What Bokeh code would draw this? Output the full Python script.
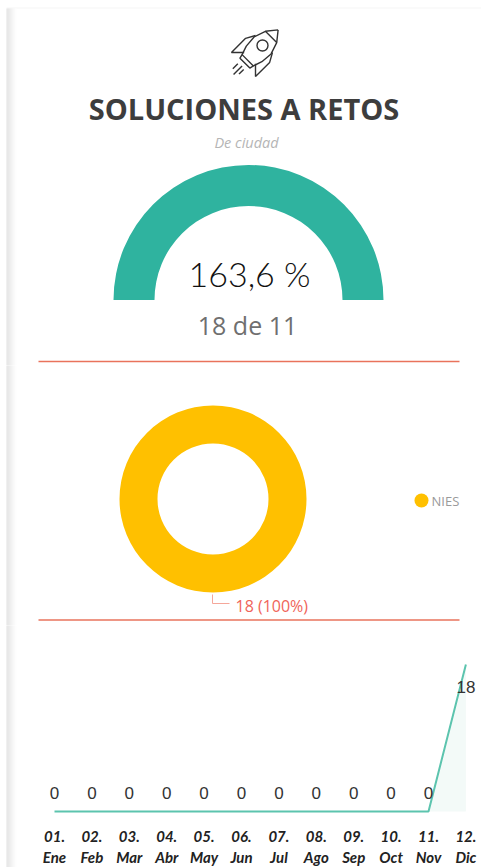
from bokeh.plotting import figure
from bokeh.layouts import column
from bokeh.embed import file_html
from bokeh.resources import INLINE
from bokeh.models import ColumnDataSource, Range1d
from bokeh.core.properties import value
import math

# ---- data ----
title_text = "SOLUCIONES A RETOS"
subtitle_text = "De ciudad"
gauge_value = 18
gauge_target = 11
gauge_label = "163,6 %"
gauge_sub = "18 de 11"
donut_names = ["NIES"]
donut_values = [18]
donut_label = "18 (100%)"
months = ["01.\nEne", "02.\nFeb", "03.\nMar", "04.\nAbr", "05.\nMay", "06.\nJun",
          "07.\nJul", "08.\nAgo", "09.\nSep", "10.\nOct", "11.\nNov", "12.\nDic"]
line_values = [0, 0, 0, 0, 0, 0, 0, 0, 0, 0, 0, 18]

# ---- styles ----
TEAL = "#2fb39f"
YEL = "#ffc000"
RED = "#e9735c"
W = 481
SPLIT1, SPLIT2, H = 365, 625, 867
SHADES = ["#e2e2e2", "#e0e0e0", "#e3e3e3", "#e7e7e7", "#ebebeb", "#f0f0f0", "#f4f4f4", "#f7f7f7", "#fafafa", "#fdfdfd"]


def style(p):
    p.axis.visible = False
    p.grid.visible = False
    p.outline_line_color = None
    p.background_fill_color = "white"
    p.border_fill_color = "white"


def panel(top, bottom):
    p = figure(width=W, height=bottom - top, output_backend="svg", toolbar_location=None,
               x_range=Range1d(0, W), y_range=Range1d(bottom, top), min_border=0)
    style(p)
    if top == 0:
        p.quad(left=6, right=481, top=7, bottom=8, fill_color="#f6f6f6", line_color=None)
    for i, c in enumerate(SHADES):
        p.quad(left=6 + i, right=7 + i, top=max(top - 2, 8), bottom=bottom + 2, fill_color=c, line_color=None)
    return p


# ---- top panel: rocket, title, gauge ----
p1 = panel(0, SPLIT1)
p1.line([38, 459], [361, 361], line_color=RED, line_width=1.5)

# rocket icon, drawn in its own units and turned 45 degrees
rocket_paths = [
    [(0, -32), (-8, -22), (-12, -10), (-11, 2), (-8, 11), (8, 11), (11, 2), (12, -10), (8, -22), (0, -32)],
    [(-8, -22), (8, -22)],
    [(-8, 11), (-7, 15), (7, 15), (8, 11)],
    [(-12, -12), (-17, -3), (-17, 17), (-8, 8)],
    [(12, -12), (17, -3), (17, 17), (8, 8)],
    [(-4.5, 20.5), (-4.5, 27.6)], [(0, 19), (0, 31)], [(3.6, 20.3), (3.6, 26.9)],
]
rx, ry, ang = 255, 52, math.radians(45)
for path in rocket_paths:
    xs = [rx + a * math.cos(ang) - b * math.sin(ang) for a, b in path]
    ys = [ry + a * math.sin(ang) + b * math.cos(ang) for a, b in path]
    p1.line(xs, ys, line_color="#333333", line_width=1.4)
p1.circle([262], [45], radius=5.5, fill_color=None, line_color="#333333", line_width=1.4)

p1.text([243.5], [108], text=[title_text], text_font=value("Open Sans"), text_font_style="bold",
        text_font_size="29px", text_color="#3d3d3d", text_align="center", text_baseline="middle")
p1.text([246], [142], text=[subtitle_text], text_font=value("Open Sans"), text_font_style="italic",
        text_font_size="14.5px", text_color="#b5b5b5", text_align="center", text_baseline="middle")

sweep = min(gauge_value / gauge_target, 1.0) * math.pi
p1.annular_wedge([248], [299.5], inner_radius=94, outer_radius=135, start_angle=[0], end_angle=[sweep],
                 direction="anticlock", fill_color=TEAL, line_color=None)
p1.text([249], [273], text=[gauge_label], text_font=value("Lato Light"), text_font_size="34px",
        text_color="#111111", text_align="center", text_baseline="middle")
p1.text([247], [324], text=[gauge_sub], text_font=value("Open Sans"), text_font_size="25px",
        text_color="#6f6f6f", text_align="center", text_baseline="middle")

# ---- middle panel: donut ----
p2 = panel(SPLIT1, SPLIT2)
total = sum(donut_values)
p2.annular_wedge([212.5], [498.5], inner_radius=55.5, outer_radius=93.5, start_angle=[0],
                 end_angle=[2 * math.pi * donut_values[0] / total], fill_color=YEL, line_color=None)
p2.line([212, 212, 229], [594, 603, 603], line_color="#f5a79a", line_width=1)
p2.text([235], [605], text=[donut_label], text_font=value("Open Sans"), text_font_size="16px",
        text_color="#f0645a", text_align="left", text_baseline="middle")
p2.scatter([421], [500], size=14, marker="circle", fill_color=YEL, line_color=None)
p2.text([431], [500], text=donut_names, text_font=value("Open Sans"), text_font_size="13px",
        text_color="#9a9a9a", text_align="left", text_baseline="middle")
p2.line([38, 459], [619.5, 619.5], line_color=RED, line_width=1.5)

# ---- bottom panel: monthly line ----
X0, STEP = 54, 37.4
x_left = 1 - X0 / STEP
x_right = 1 + (481 - X0) / STEP
Y_BASE, Y_TOP = 811, 664
unit = (Y_BASE - Y_TOP) / max(line_values)
p3 = figure(width=W, height=H - SPLIT2, output_backend="svg", toolbar_location=None,
            x_range=Range1d(x_left, x_right),
            y_range=Range1d((Y_BASE - H) / unit, (Y_BASE - SPLIT2) / unit), min_border=0)
style(p3)
xs = list(range(1, 13))
for i, c in enumerate(SHADES):
    p3.quad(left=x_left + (6 + i) / STEP, right=x_left + (7 + i) / STEP, top=p3.y_range.end + 1, bottom=p3.y_range.start - 1,
            fill_color=c, line_color=None)
src = ColumnDataSource(dict(x=xs, y=line_values, t=[str(v) for v in line_values], m=months))
p3.varea(x="x", y1=0, y2="y", source=src, fill_color="#f3faf8")
p3.line("x", "y", source=src, line_color="#5cc4ae", line_width=2)
low = ColumnDataSource(dict(x=xs[:-1], y=line_values[:-1], t=[str(v) for v in line_values[:-1]]))
high = ColumnDataSource(dict(x=xs[-1:], y=line_values[-1:], t=[str(v) for v in line_values[-1:]]))
p3.text("x", "y", text="t", source=low, text_font=value("Liberation Sans"), text_font_size="17px", text_color="#333333",
        text_align="center", text_baseline="middle", y_offset=-19)
p3.text("x", "y", text="t", source=high, text_font=value("Liberation Sans"), text_font_size="17px", text_color="#333333",
        text_align="center", text_baseline="middle", y_offset=22)
p3.text("x", 0, text="m", source=src, text_font=value("Lato"), text_font_style="bold italic", text_font_size="15px",
        text_color="#222222", text_align="center", text_baseline="top", y_offset=15, text_line_height=1.2)

layout = column(p1, p2, p3, spacing=0)
open("out.html", "w").write(file_html(layout, INLINE))
